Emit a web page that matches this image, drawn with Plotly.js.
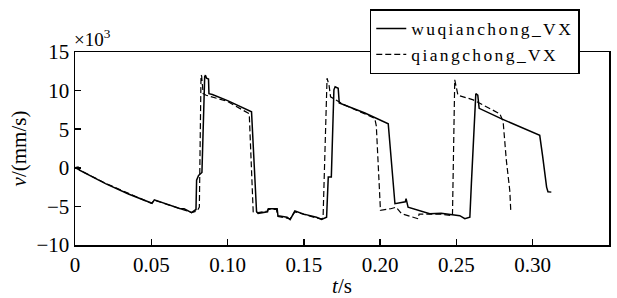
<!DOCTYPE html>
<html>
<head>
<meta charset="utf-8">
<script src="https://cdn.plot.ly/plotly-3.0.1.min.js"></script>
<style>html,body{margin:0;padding:0;background:#fff;}#chart{width:617px;height:298px;}
.legendtext{letter-spacing:2.4px;}</style>
</head>
<body>
<div id="chart"></div>
<script>
// velocity in units of 10^3 mm/s
const wuqianchongT = [0.000,0.002,0.003,0.020,0.035,0.050,0.0505,0.052,0.060,0.069,0.0715,0.0764,0.0793,0.0797,0.0810,0.0832,0.0850,0.0855,0.0862,0.0875,0.0878,0.0900,0.1000,0.1157,0.1190,0.1200,0.1262,0.1267,0.1325,0.1330,0.1390,0.1410,0.1441,0.1500,0.1583,0.1616,0.1649,0.1660,0.1680,0.1697,0.1705,0.1725,0.1732,0.1900,0.2053,0.2097,0.2165,0.2170,0.2183,0.2325,0.2400,0.2522,0.2555,0.2588,0.2598,0.2627,0.2640,0.2649,0.2800,0.3046,0.3065,0.3091,0.3100,0.3122];
const wuqianchongV = [0.0,0.1,-0.3,-2.05,-3.4,-4.65,-4.6,-4.15,-4.7,-5.3,-5.3,-5.8,-5.4,-1.6,-1.0,-0.6,11.8,12.0,11.6,11.5,9.6,9.5,8.7,7.25,-5.7,-5.9,-5.7,-5.3,-5.3,-6.2,-6.4,-6.7,-5.6,-6.0,-6.4,-6.7,-6.4,-1.2,-1.2,10.1,10.5,10.3,8.4,7.1,5.7,-4.65,-4.4,-4.0,-5.1,-5.95,-5.9,-6.2,-6.6,-6.4,-2.05,9.6,9.4,7.7,6.3,4.2,1.5,-2.5,-3.1,-3.15];

const qiangchongT = [0.000,0.003,0.020,0.050,0.052,0.069,0.0764,0.0800,0.0815,0.0826,0.0830,0.0840,0.0860,0.1000,0.1142,0.1168,0.1200,0.1260,0.1265,0.1320,0.1330,0.1410,0.1441,0.1583,0.1620,0.1626,0.1652,0.1665,0.1675,0.1760,0.1965,0.1975,0.1985,0.2002,0.2070,0.2105,0.2140,0.2249,0.2255,0.2400,0.2474,0.2489,0.2510,0.2610,0.2784,0.2806,0.2827,0.2850,0.2856];
const qiangchongV = [0.0,-0.3,-2.0,-4.6,-4.2,-5.3,-5.8,-5.6,-5.1,12.0,11.9,9.6,9.4,8.6,7.0,-5.7,-5.8,-5.6,-5.4,-5.4,-6.3,-6.6,-5.7,-6.5,-6.6,-6.4,11.6,10.7,9.2,8.2,6.4,5.4,0.5,-5.5,-5.3,-5.1,-5.95,-6.6,-6.0,-6.0,-6.2,11.4,9.4,8.8,7.0,6.0,1.0,-3.0,-5.5];

const seriesNames = ['wuqianchong_VX','qiangchong_VX'];
const xTickVals = [0,0.05,0.10,0.15,0.20,0.25,0.30,0.35];
const xTickText = ['0','0.05','0.10','0.15','0.20','0.25','0.30','0.35'];
const yTickVals = [-10,-5,0,5,10,15];
const yTickText = ['\u221210','\u22125','0','5','10','15'];

const font = 'Liberation Serif';

const traces = [
  {x: wuqianchongT, y: wuqianchongV, name: seriesNames[0], mode: 'lines',
   line: {color: '#000', width: 1.5}},
  {x: qiangchongT, y: qiangchongV, name: seriesNames[1], mode: 'lines',
   line: {color: '#000', width: 1.2, dash: '6px,3px'}}
];

const layout = {
  width: 617, height: 298,
  margin: {l: 75, r: 8, t: 52, b: 53},
  paper_bgcolor: '#fff', plot_bgcolor: '#fff',
  font: {family: font, size: 20, color: '#000'},
  showlegend: true,
  legend: {x: 0.552, y: 1.222, xanchor: 'left', yanchor: 'top',
    bgcolor: '#fff', bordercolor: '#000', borderwidth: 1.5,
    font: {family: font, size: 17.5, color: '#000'},
    itemwidth: 30, tracegroupgap: 0, traceorder: 'normal'},
  xaxis: {range: [0, 0.35], tickvals: xTickVals, ticktext: xTickText,
    ticks: 'inside', ticklen: 6, tickwidth: 1.5, tickcolor: '#000',
    showline: true, linecolor: '#000', linewidth: 1.5, mirror: true,
    showgrid: false, zeroline: false,
    tickfont: {family: font, size: 21},
    title: {text: '<i>t</i>/s', font: {family: font, size: 21}, standoff: 21}},
  yaxis: {range: [-10, 15], tickvals: yTickVals, ticktext: yTickText,
    ticks: 'inside', ticklen: 6, tickwidth: 1.5, tickcolor: '#000',
    showline: true, linecolor: '#000', linewidth: 1.5, mirror: true,
    showgrid: false, zeroline: false,
    tickfont: {family: font, size: 21},
    title: {text: '<i>v</i>/(mm/s)', font: {family: font, size: 21}, standoff: 4}},
  annotations: [{xref: 'paper', yref: 'paper', x: -0.005, y: 1.0, xanchor: 'left', yanchor: 'bottom',
    text: '\u00d710<sup>3</sup>', showarrow: false, font: {family: font, size: 19}}]
};

Plotly.newPlot('chart', traces, layout, {displayModeBar: false, staticPlot: true});
</script>
</body>
</html>
